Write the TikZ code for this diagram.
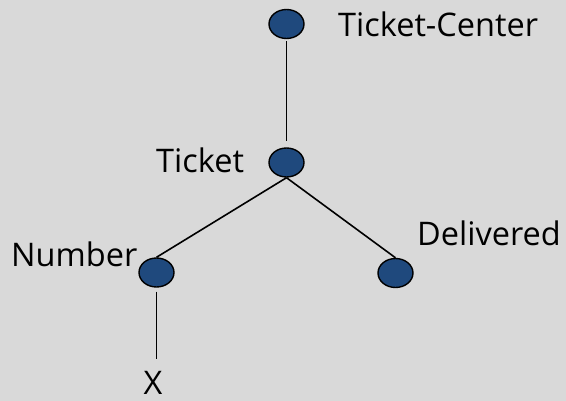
\documentclass[tikz,border=0pt]{standalone}
\usepackage{fontspec}
\setmainfont{Open Sans}
\usetikzlibrary{shapes.geometric}
\definecolor{bg}{HTML}{D9D9D9}
\definecolor{dotblue}{HTML}{1F497D}
\begin{document}
\begin{tikzpicture}[x=1pt,y=-1pt,
  dot/.style={ellipse,draw=black,line width=1.4pt,fill=dotblue,minimum width=35pt,minimum height=29pt,inner sep=0pt},
  lbl/.style={inner sep=0pt,anchor=base west,font=\fontsize{32.5}{38}\selectfont},
  link/.style={draw=black,line width=1.6pt}]
\fill[bg] (0,0) rectangle (566,401);
\useasboundingbox (0,0) rectangle (566,401);
\node[dot] (tc) at (286.5,24) {};
\node[dot] (t) at (286.5,162.5) {};
\node[dot] (n) at (156.5,272.5) {};
\node[dot] (d) at (395.5,273) {};
\node[lbl] (ltc) at (338,37) {Ticket-Center};
\node[lbl] (lt) at (156,173) {Ticket};
\node[lbl] (ln) at (11,267) {Number};
\node[lbl] (ld) at (417,246) {Delivered};
\node[lbl,anchor=base] (x) at (153,395) {X};
\draw[link,shorten <=2pt,shorten >=6pt] (tc.south) -- (t.north);
\draw[link] (t.south) -- (n.north);
\draw[link] (t.south) -- (d.north);
\draw[link,shorten <=4pt,shorten >=13pt] (n.south) -- (n.south |- x.north);
\end{tikzpicture}
\end{document}
